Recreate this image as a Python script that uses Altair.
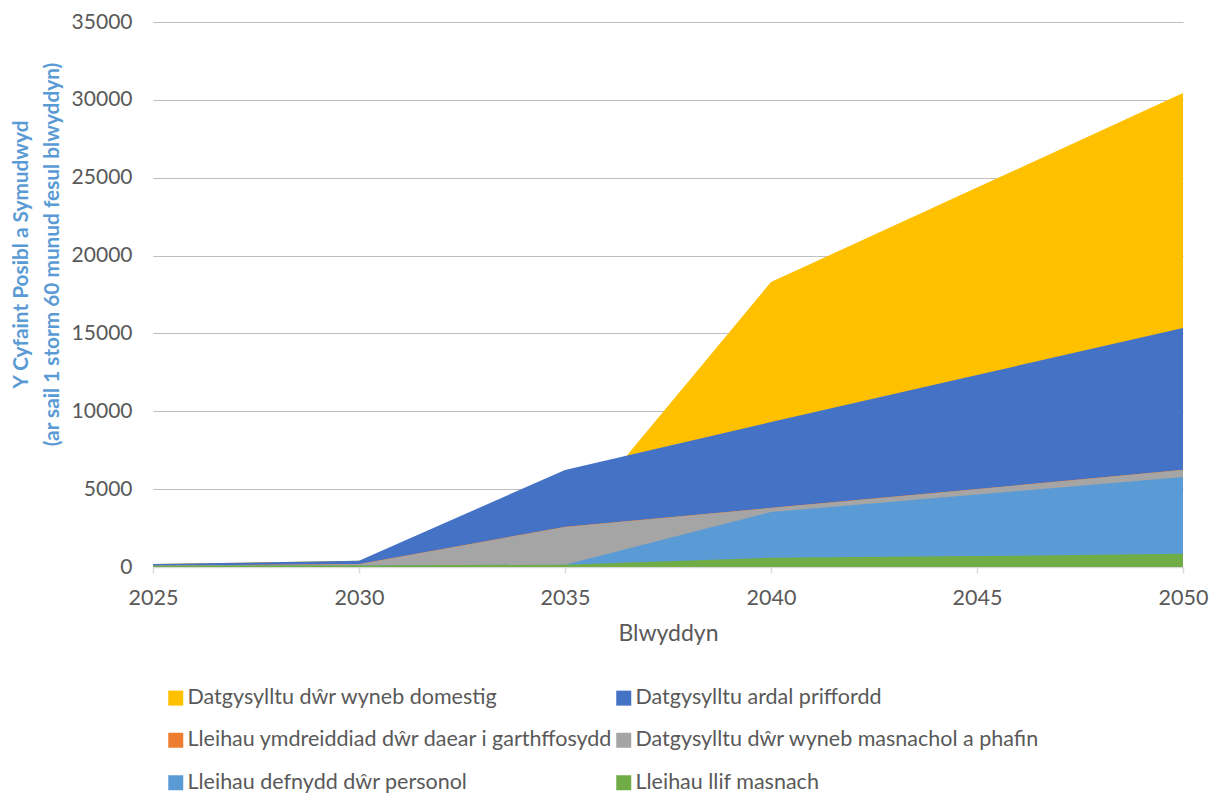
import altair as alt
import pandas as pd

years = [2025, 2030, 2035, 2040, 2045, 2050]

# series values (not cumulative)
domestig = [0, 0, -3850, 8990, 12040, 15090]       # Datgysylltu dŵr wyneb domestig
priffordd = [105, 200, 3650, 5510, 7320, 9110]     # Datgysylltu ardal priffordd
ymdreiddiad = [5, 20, 10, 10, 10, 10]              # Lleihau ymdreiddiad dŵr daear i garthffosydd
masnachol = [0, 80, 2420, 260, 350, 450]           # Datgysylltu dŵr wyneb masnachol a phafin
personol = [0, 0, 0, 2930, 3950, 4930]             # Lleihau defnydd dŵr personol
llif = [80, 100, 150, 600, 700, 850]               # Lleihau llif masnach

names = [
    "Datgysylltu dŵr wyneb domestig",
    "Datgysylltu ardal priffordd",
    "Lleihau ymdreiddiad dŵr daear i garthffosydd",
    "Datgysylltu dŵr wyneb masnachol a phafin",
    "Lleihau defnydd dŵr personol",
    "Lleihau llif masnach",
]
colors = ["#FFC000", "#4472C4", "#ED7D31", "#A5A5A5", "#5B9BD5", "#70AD47"]
series_vals = [domestig, priffordd, ymdreiddiad, masnachol, personol, llif]
# stacking order: bottom (llif) -> top (domestig)
stack_rank = {n: 5 - i for i, n in enumerate(names)}

rows = []
for n, vals in zip(names, series_vals):
    for y, v in zip(years, vals):
        rows.append({"year": y, "series": n, "value": v, "rank": stack_rank[n]})
df = pd.DataFrame(rows)

FONT = "Lato"

base = alt.Chart(df).transform_window(
    top="sum(value)",
    frame=[None, 0],
    groupby=["year"],
    sort=[alt.SortField("rank", order="ascending")],
)

x_enc = alt.X(
    "year:Q",
    scale=alt.Scale(domain=[2025, 2050], nice=False, zero=False),
    axis=alt.Axis(
        values=years,
        format="d",
        title="Blwyddyn",
        grid=False,
        domainColor="#D9D9D9",
        domainWidth=1.5,
        tickColor="#D9D9D9",
        tickWidth=1.5,
        tickSize=6,
        labelFlush=False,
        labelOverlap=False,
        labelFontSize=21.5,
        labelColor="#595959",
        labelPadding=14,
        labelFont=FONT,
        titleFont=FONT,
        titleFontSize=23,
        titleFontWeight="normal",
        titleColor="#595959",
        titlePadding=14,
    ),
)
y_enc = alt.Y(
    "top:Q",
    scale=alt.Scale(domain=[0, 35000], nice=False),
    axis=alt.Axis(
        values=[0, 5000, 10000, 15000, 20000, 25000, 30000, 35000],
        format="d",
        title=["Y Cyfaint Posibl a Symudwyd", "(ar sail 1 storm 60 munud fesul blwyddyn)"],
        domain=False,
        ticks=False,
        gridColor="#BFBFBF",
        gridWidth=1.2,
        labelFontSize=21,
        labelColor="#595959",
        labelPadding=21,
        labelFont=FONT,
        titleFont=FONT,
        titleFontSize=20.8,
        titleFontWeight="bold",
        titleColor="#5B9BD5",
        titleLineHeight=31,
        titleAngle=270,
        titleAlign="center",
        titleBaseline="top",
        titleX=-142,
        titleY=232,
    ),
)
color_enc = alt.Color(
    "series:N",
    scale=alt.Scale(domain=names, range=colors),
    sort=names,
    legend=alt.Legend(
        title=None,
        orient="none",
        direction="horizontal",
        legendX=12,
        legendY=665,
        columns=2,
        symbolType="square",
        symbolSize=225,
        symbolStrokeWidth=0,
        symbolOpacity=1,
        labelFont=FONT,
        labelFontSize=21.5,
        labelColor="#595959",
        labelLimit=700,
        labelOffset=1,
        rowPadding=19.5,
        columnPadding=-9,
    ),
)

layers = []
for n in names:  # draw top series first, bottom series last
    layers.append(
        base.transform_filter(alt.datum.series == n)
        .mark_area(opacity=1, interpolate="linear")
        .encode(x=x_enc, y=y_enc, color=color_enc)
    )

chart = (
    alt.layer(*layers)
    .properties(
        width=1030,
        height=545,
        autosize=alt.AutoSizeParams(type="none"),
        padding={"left": 145, "top": 14, "right": 27, "bottom": 228},
    )
    .configure_view(stroke=None)
)

chart.save("out.html", embed_options={"renderer": "svg", "actions": False})
